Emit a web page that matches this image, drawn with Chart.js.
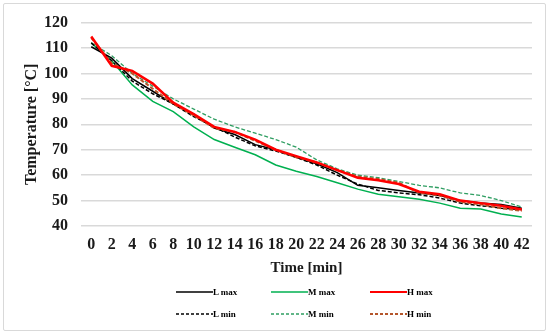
<!DOCTYPE html>
<html>
<head>
<meta charset="utf-8">
<script src="https://cdn.jsdelivr.net/npm/chart.js@4.4.1/dist/chart.umd.min.js"></script>
<style>
    html, body { margin: 0; padding: 0; background: #fff; }
    #wrap { position: relative; width: 550px; height: 334px; }
    #frame { position: absolute; left: 3px; top: 3px; width: 541px; height: 326px; border: 1px solid #d9d9d9; border-radius: 2px; }
    #myChart { position: absolute; left: 0; top: 0; }
    .item { position: absolute; display: flex; align-items: center; font: bold 9px "Liberation Serif", serif; color: #000; white-space: nowrap; }
    .item svg { display: block; }
</style>
</head>
<body>
<div id="wrap">
    <div id="frame"></div>
    <canvas id="myChart" width="550" height="334"></canvas>
    <div id="legend"></div>
</div>
<script>
// time axis (minutes)
const times = ['0', '2', '4', '6', '8', '10', '12', '14', '16', '18', '20', '22', '24', '26', '28', '30', '32', '34', '36', '38', '40', '42'];

// temperatures
const lMax = [110.5, 106, 98, 93, 88, 84, 78.5, 76, 72, 70, 67, 64.5, 61, 56, 55, 54, 53, 52, 50, 49, 48.5, 47];
const lMin = [112, 105, 97, 92, 88, 83, 79, 75, 71.5, 69.5, 67, 64, 60, 56.5, 54, 53, 52.3, 51, 49, 48, 47, 46.5];
const mMax = [112, 105, 95.5, 89, 85, 79, 74, 71, 68, 64, 61.5, 59.5, 57, 54.5, 52.5, 51.5, 50.5, 49, 47, 46.7, 44.7, 43.5];
const mMin = [112, 107, 100, 95, 90, 86, 82, 79, 76.5, 74, 71, 66, 62.5, 60, 59, 57.5, 56, 55, 53, 52, 50, 47.5];
const hMax = [114.5, 103, 101, 96, 88.5, 84, 79, 77, 74, 70, 67.5, 65, 62, 59, 58, 56.5, 53.5, 52.5, 50, 49, 48, 46.5];
const hMin = [114, 104, 100, 94, 88, 83.5, 78.5, 77, 73.5, 70, 67, 65, 62, 59.5, 58.5, 57, 53, 52, 49.5, 48.5, 47, 46];

const yTicks = { min: 40, max: 120, step: 10 };

const serif = '"Liberation Serif", "Times New Roman", serif';

function line(label, data, color, width, dash) {
    return {
        label: label,
        data: data,
        borderColor: color,
        backgroundColor: color,
        borderWidth: width,
        borderDash: dash || [],
        pointRadius: 0,
        tension: 0,
        fill: false
    };
}

const datasets = [
    line('H max', hMax, '#ff0000', 2.5),
    line('H min', hMin, '#b5562b', 2, [4, 2]),
    line('L max', lMax, '#000000', 1.5),
    line('L min', lMin, '#000000', 1.5, [4, 2]),
    line('M max', mMax, '#00b050', 1.5),
    line('M min', mMin, '#2f9e62', 1.3, [4, 2])
];

const ctx = document.getElementById('myChart');

new Chart(ctx, {
    type: 'line',
    data: { labels: times, datasets: datasets },
    options: {
        responsive: false,
        animation: false,
        layout: { padding: { left: 22, right: 18, top: 20, bottom: 57 } },
        plugins: {
            legend: { display: false },
            tooltip: { enabled: false }
        },
        scales: {
            x: {
                offset: true,
                grid: { display: false, drawTicks: false },
                border: { display: false },
                ticks: {
                    color: '#1a1a1a',
                    padding: 9,
                    maxRotation: 0,
                    autoSkip: false,
                    font: { family: serif, size: 16, weight: 'bold' }
                },
                title: {
                    display: true,
                    text: 'Time [min]',
                    color: '#1a1a1a',
                    padding: 0,
                    font: { family: serif, size: 15, weight: 'bold' }
                },
                afterFit: function (s) { s.height = 51; }
            },
            y: {
                min: yTicks.min,
                max: yTicks.max,
                grid: { color: '#d9d9d9', lineWidth: 1.5, drawTicks: false },
                border: { display: false },
                ticks: {
                    stepSize: yTicks.step,
                    color: '#1a1a1a',
                    padding: 13,
                    font: { family: serif, size: 16, weight: 'bold' }
                },
                title: {
                    display: true,
                    text: 'Temperature [°C]',
                    color: '#1a1a1a',
                    padding: 0,
                    font: { family: serif, size: 16, weight: 'bold' }
                },
                afterFit: function (s) { s.width = 59; }
            }
        }
    }
});

// legend: three columns (L, M, H), two rows (max, min)
const legendCols = { L: 176, M: 271, H: 370 };
const legendRows = { max: 286, min: 308 };
const legend = document.getElementById('legend');
datasets.forEach(function (d) {
    const parts = d.label.split(' ');
    const item = document.createElement('div');
    item.className = 'item';
    item.style.left = legendCols[parts[0]] + 'px';
    item.style.top = legendRows[parts[1]] + 'px';
    const dash = d.borderDash.length ? ' stroke-dasharray="3,2"' : '';
    item.innerHTML = '<svg width="37" height="12"><line x1="0" y1="6" x2="37" y2="6" stroke="' + d.borderColor +
        '" stroke-width="' + Math.min(d.borderWidth, 1.8) + '"' + dash + '/></svg><span>' + d.label + '</span>';
    legend.appendChild(item);
});
</script>
</body>
</html>
